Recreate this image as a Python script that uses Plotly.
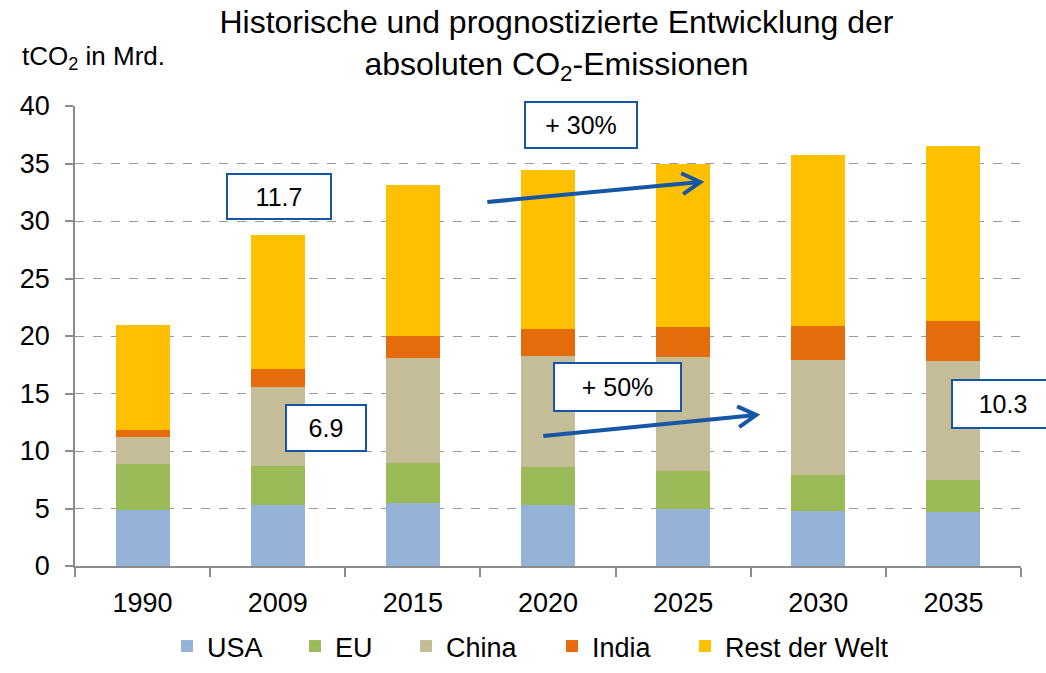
import math
import plotly.graph_objects as go

years = ["1990", "2009", "2015", "2020", "2025", "2030", "2035"]
usa = [4.9, 5.3, 5.5, 5.3, 5.0, 4.8, 4.7]
eu = [4.0, 3.4, 3.5, 3.3, 3.3, 3.1, 2.8]
china = [2.3, 6.9, 9.1, 9.7, 9.9, 10.0, 10.3]
india = [0.6, 1.5, 1.9, 2.3, 2.6, 3.0, 3.5]
rest = [9.2, 11.7, 13.1, 13.8, 14.2, 14.8, 15.2]

series = [
    ("USA", usa, "#95B3D7"),
    ("EU", eu, "#9BBB59"),
    ("China", china, "#C4BD97"),
    ("India", india, "#E46C0A"),
    ("Rest der Welt", rest, "#FFC000"),
]

FONT = "Liberation Sans, Arial, sans-serif"
BLUE = "#1556A6"
W, H = 1046, 673
L, R, T, B = 75, 25, 106, 107
PW, PH = W - L - R, H - T - B
XR = (-0.5, 6.5)
YR = (0, 40)
PX_PER_X = PW / (XR[1] - XR[0])
PX_PER_Y = PH / (YR[1] - YR[0])

fig = go.Figure()
legend_keys = ["legend", "legend2", "legend3", "legend4", "legend5"]
marker_centers = [187, 315, 426, 572, 705]
for (name, vals, col), lk in zip(series, legend_keys):
    fig.add_trace(go.Bar(x=years, y=vals, name=name, legend=lk,
                         marker=dict(color=col, line=dict(width=0))))

legend_layout = {}
for lk, mc in zip(legend_keys, marker_centers):
    legend_layout[lk] = dict(
        orientation="h", x=(mc - 20 - L) / PW, xanchor="left",
        y=(H - B - 671) / PH, yanchor="bottom",
        font=dict(size=27, family=FONT), itemwidth=30, bgcolor="rgba(0,0,0,0)",
    )

axis_col = "#8C8C8C"
fig.update_layout(
    width=W, height=H,
    margin=dict(l=L, r=R, t=T, b=B, autoexpand=False),
    barmode="stack", bargap=0.6,
    plot_bgcolor="white", paper_bgcolor="white",
    font=dict(family=FONT, color="black"),
    title=dict(
        text="Historische und prognostizierte Entwicklung der<br>absoluten CO<sub>2</sub>-Emissionen",
        x=0.532, xanchor="center", y=0.951, yanchor="top",
        font=dict(size=32, family=FONT, color="black"),
    ),
    showlegend=True,
    **legend_layout,
)
fig.update_yaxes(range=list(YR), dtick=5, showgrid=True, gridcolor="#9A9A9A", griddash="dash",
                 gridwidth=1, showline=True, linecolor=axis_col, linewidth=1.5,
                 ticks="outside", ticklen=8, tickcolor=axis_col, tickwidth=1.5,
                 tickfont=dict(size=27, family=FONT), zeroline=False, ticklabelstandoff=10,
                 automargin=False)
fig.update_xaxes(range=list(XR), showline=True, linecolor=axis_col, linewidth=1.5, ticks="outside",
                 tickson="boundaries", ticklen=9, tickcolor=axis_col, tickwidth=1.5,
                 tickfont=dict(size=27, family=FONT), ticklabelstandoff=12, automargin=False)

# y-axis unit label
fig.add_annotation(text="tCO<sub>2</sub> in Mrd.", xref="paper", yref="paper",
                   x=(20 - L) / PW, xanchor="left", y=(H - B - 58) / PH, yanchor="middle",
                   showarrow=False, font=dict(size=26, family=FONT))

boxes = [
    ("11.7", 1.013, 32.17, 102, 43),
    ("6.9", 1.354, 12.0, 78, 44),
    ("+ 30%", 3.247, 38.35, 110, 44),
    ("+ 50%", 3.513, 15.57, 125, 46),
    ("15.2", 6.02, 40.26, 116, 46),
    ("10.3", 6.37, 14.1, 100, 46),
]
for txt, xi, yv, w, h in boxes:
    fig.add_annotation(text=txt, x=xi, y=yv, xref="x", yref="y", showarrow=False,
                       width=w, height=h, bgcolor="white", bordercolor=BLUE, borderwidth=2,
                       borderpad=0, font=dict(size=25, family=FONT), align="center", valign="middle")

# arrows: tip in data coords, tail offset in screen pixels (y down)
arrows = [(4.127, 33.39, -213, 20), (4.541, 13.13, -213, 21)]
for xi, yv, ax, ay in arrows:
    def to_data(dx_px, dy_px):
        return xi + dx_px / PX_PER_X, yv - dy_px / PX_PER_Y
    tx, ty = to_data(ax, ay)
    n = math.hypot(ax, ay)
    ux, uy = ax / n, ay / n
    arms = []
    for ang in (math.radians(30), math.radians(-30)):
        rx = ux * math.cos(ang) - uy * math.sin(ang)
        ry = ux * math.sin(ang) + uy * math.cos(ang)
        arms.append(to_data(rx * 21, ry * 21))
    path = (f"M {tx} {ty} L {xi} {yv} "
            f"M {arms[0][0]} {arms[0][1]} L {xi} {yv} L {arms[1][0]} {arms[1][1]}")
    fig.add_shape(type="path", path=path, xref="x", yref="y",
                  line=dict(color=BLUE, width=4), layer="above")

fig.write_html("out.html", config={"displayModeBar": False},
               post_script="document.body.style.margin='0';document.body.style.overflow='hidden';")
